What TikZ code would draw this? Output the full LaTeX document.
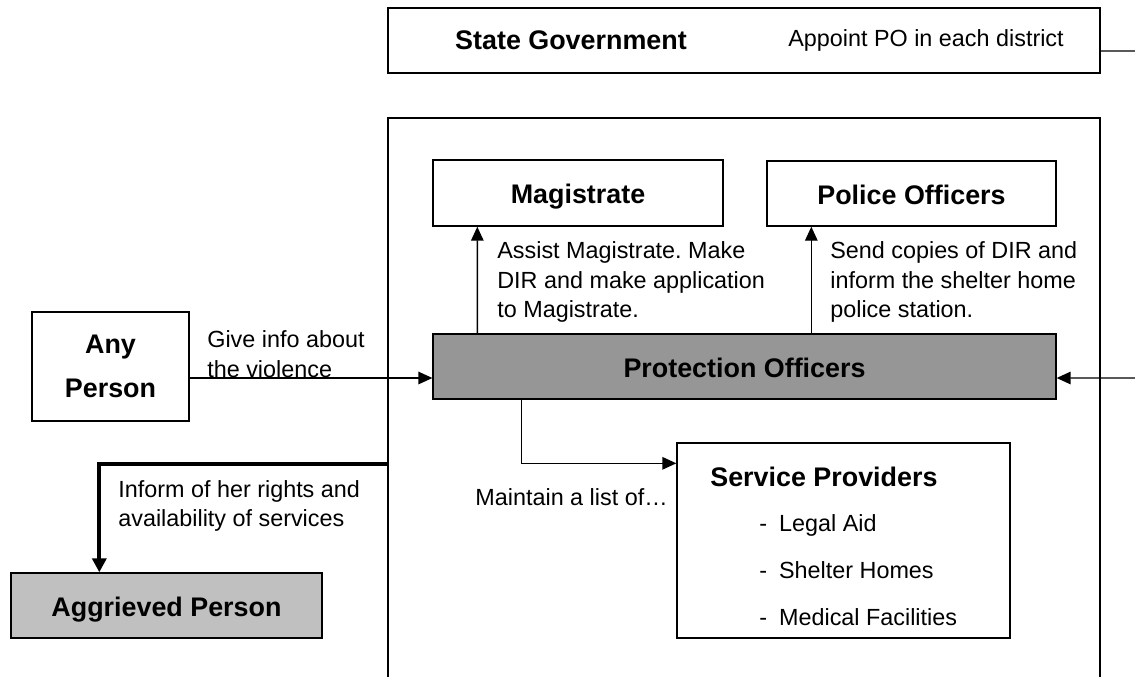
\documentclass[tikz,border=0pt]{standalone}
\usepackage{fontspec}
\setmainfont{Liberation Sans}
\usetikzlibrary{arrows.meta,positioning}
\frenchspacing

\newcommand{\txtfont}{\fontsize{13.3}{16.7}\selectfont}
\newcommand{\hdfont}{\fontsize{15.3}{18.4}\selectfont\bfseries}

\definecolor{pogray}{RGB}{150,150,150}
\definecolor{aggray}{RGB}{192,192,192}

\begin{document}
\begin{tikzpicture}[x=0.02cm,y=-0.02cm,
    box/.style={draw,line width=0.8pt,inner sep=0pt,font=\hdfont},
    linebox/.style={box,text height=13pt,text depth=1pt},
    note/.style={inner sep=0pt,align=left,font=\txtfont},
    arr/.style={-{Triangle[length=0.28cm,width=0.25cm]},line width=0.8pt},
    heavyarr/.style={-{Triangle[length=0.28cm,width=0.28cm]},line width=2.3pt}]
      \useasboundingbox (0,0) rectangle (1135,677);

      \node[box,minimum width=14.24cm,minimum height=1.3cm] (stategov) at (744,40.5) {};
      \node[inner sep=0pt,font=\hdfont] (stgtitle) at (571,40) {State Government};
      \node[note] (stgnote) at (926,40) {Appoint PO in each district};

      \draw[line width=0.8pt] (388,677) -- (388,118) -- (1100,118) -- (1100,677);

      \node[linebox,minimum width=5.8cm,minimum height=1.32cm] (magistrate) at (578,193) {Magistrate};
      \node[linebox,minimum width=5.78cm,minimum height=1.3cm] (police) at (911.5,193.5) {Police Officers};
      \node[linebox,fill=pogray,minimum width=12.46cm,minimum height=1.3cm] (protect) at (744.5,366.5) {Protection Officers};
      \node[box,align=center,minimum width=3.14cm,minimum height=2.18cm] (anyperson) at (110.5,366.5) {Any\\[6.6pt]Person};
      \node[linebox,fill=aggray,minimum width=6.22cm,minimum height=1.3cm] (aggrieved) at (166.5,605.5) {Aggrieved Person};
      \node[box,minimum width=6.66cm,minimum height=3.9cm] (service) at (843.5,540.5) {};

      \node[inner sep=0pt,font=\hdfont,anchor=west] (sptitle) at (710,477) {Service Providers};
      \node[note,anchor=west] (legal) at (759,525) {-\hskip0.24cm Legal Aid};
      \node[note,anchor=west] (shelter) at (759,570) {-\hskip0.24cm Shelter Homes};
      \node[note,anchor=west] (medical) at (759,617) {-\hskip0.24cm Medical Facilities};

      \node[note,anchor=west] (assistnote) at (497,282) {Assist Magistrate. Make\\DIR and make application\\to Magistrate.};
      \node[note,anchor=west] (sendnote) at (830,282) {Send copies of DIR and\\inform the shelter home\\police station.};
      \node[note,anchor=west] (infonote) at (207,354) {Give info about\\the violence};
      \node[note,anchor=west] (rightsnote) at (118,506) {Inform of her rights and\\availability of services};
      \node[note,anchor=east] (listnote) at (668,497) {Maintain a list of…};

      \coordinate (govend) at (1135,51);
      \coordinate (poin) at (1135,378);
      \coordinate (inform) at (388,464);

      \draw[line width=0.8pt] ([yshift=-0.21cm]stategov.east) -- (govend);
      \draw[arr] ([xshift=0.9cm]protect.north west) -- ([xshift=0.9cm]magistrate.south west);
      \draw[arr] ([xshift=0.9cm]police.south west |- protect.north) -- ([xshift=0.9cm]police.south west);
      \draw[arr] ([yshift=-0.23cm]anyperson.east) -- ([yshift=-0.23cm]protect.west);
      \draw[arr] (poin) -- ([yshift=-0.23cm]protect.east);
      \draw[arr] ([xshift=1.78cm]protect.south west) |- ([yshift=-0.42cm]service.north west);
      \draw[heavyarr] (inform) -| ([xshift=1.78cm]aggrieved.north west);
\end{tikzpicture}
\end{document}
